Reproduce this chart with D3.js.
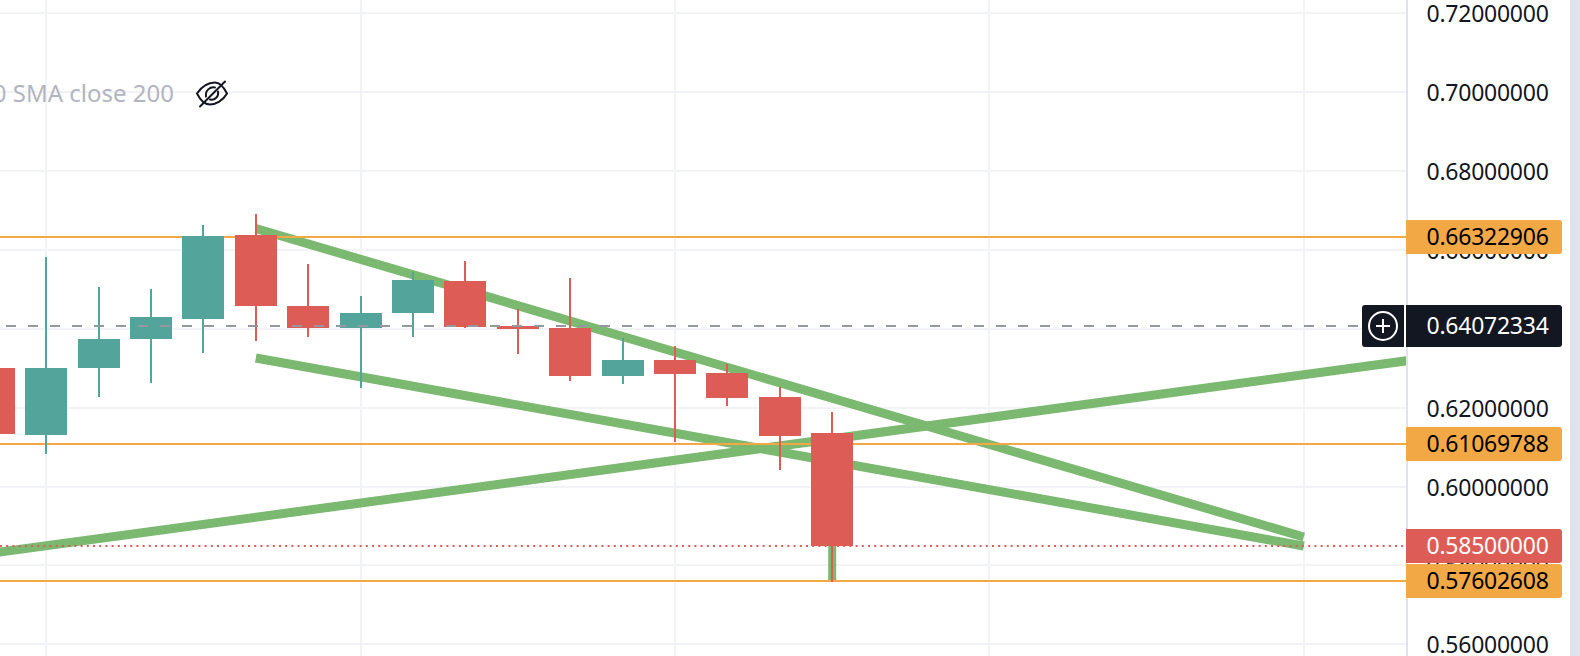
<!DOCTYPE html>
<html>
<head>
<meta charset="utf-8">
<script src="https://cdn.jsdelivr.net/npm/d3@7"></script>
<style>
  html, body { margin: 0; padding: 0; background: #fff; overflow: hidden; }
  text { font-family: "Noto Sans", sans-serif; }
  .price { font-size: 23px; letter-spacing: -0.25px; }
</style>
</head>
<body>
<div id="chart"></div>
<script>
// candle values, left to right (first one is cut by the left edge)
const candleIdx = [0, 1, 2, 3, 4, 5, 6, 7, 8, 9, 10, 11, 12, 13, 14, 15, 16];
const opens = [0.63016, 0.61318, 0.63016, 0.63752, 0.64259, 0.66388, 0.64588, 0.6403, 0.64411, 0.65222, 0.64081, 0.6403, 0.62814, 0.63219, 0.6289, 0.62281, 0.61369];
const closes = [0.61343, 0.63016, 0.63752, 0.64309, 0.66363, 0.64588, 0.6403, 0.64411, 0.65247, 0.64056, 0.64005, 0.62814, 0.63219, 0.62864, 0.62256, 0.61293, 0.585];
const highs = [0.63016, 0.6583, 0.6507, 0.65019, 0.66641, 0.6692, 0.65653, 0.64842, 0.6545, 0.65729, 0.64512, 0.65298, 0.63777, 0.63574, 0.63118, 0.62535, 0.61901];
const lows = [0.61343, 0.60837, 0.62281, 0.62636, 0.63397, 0.63701, 0.63802, 0.6251, 0.63802, 0.6403, 0.63371, 0.62687, 0.62611, 0.61141, 0.62053, 0.60431, 0.57602];

// axis
const priceTicks = [0.72, 0.70, 0.68, 0.66, 0.64, 0.62, 0.60, 0.58, 0.56];
const timeGrid = [1, 7, 13, 19, 25];

// drawings
const levels = [0.66322906, 0.61069788, 0.57602608];
const lastPrice = 0.64072334;
const closePrice = 0.585;
const trendUpper = [[5, 0.66553], [25, 0.58733]];
const trendLower = [[5, 0.6327], [25, 0.58504]];
const trendRising = [[0, 0.5833], [27, 0.63207]];
const trendStub = [[16, 0.59], [16, 0.57602608]];

const width = 1580, height = 656;
const plotRight = 1406;
const fmt = d3.format(".8f");

const colors = {
  up: "#53a49a", down: "#de5c56", trend: "#7bb870", level: "#f2a945",
  grid: "#f2f3f6", axis: "#e0e3eb", text: "#131722", last: "#9598a1"
};

const x = d3.scaleLinear().domain([0, 25]).range([-6.2, 1303.8]);
const y = d3.scaleLinear().domain([0.56, 0.72]).range([644.8, 13.6]);
// horizontal rules land on whole pixels
const yRule = (v) => Math.floor(y(v));

const svg = d3.select("#chart").append("svg")
  .attr("width", width)
  .attr("height", height)
  .style("display", "block");

svg.append("defs").append("clipPath").attr("id", "plot")
  .append("rect").attr("width", plotRight).attr("height", height);

// grid
svg.append("g").selectAll("line").data(priceTicks).join("line")
  .attr("x1", 0).attr("x2", plotRight)
  .attr("y1", (d) => yRule(d)).attr("y2", (d) => yRule(d))
  .attr("stroke", colors.grid).attr("stroke-width", 2);
svg.append("g").selectAll("line").data(timeGrid).join("line")
  .attr("x1", (d) => Math.round(x(d))).attr("x2", (d) => Math.round(x(d)))
  .attr("y1", 0).attr("y2", height)
  .attr("stroke", colors.grid).attr("stroke-width", 2);

const plot = svg.append("g").attr("clip-path", "url(#plot)");

// trend lines sit under everything else
const trendLine = d3.line().x((d) => x(d[0])).y((d) => y(d[1]));
plot.append("g").selectAll("path")
  .data([trendUpper, trendLower, trendRising]).join("path")
  .attr("d", trendLine)
  .attr("fill", "none")
  .attr("stroke", colors.trend)
  .attr("stroke-width", 9);
plot.append("path")
  .attr("d", trendLine(trendStub))
  .attr("fill", "none")
  .attr("stroke", colors.trend)
  .attr("stroke-width", 8);

plot.append("g").selectAll("line").data(levels).join("line")
  .attr("x1", 0).attr("x2", plotRight)
  .attr("y1", (d) => yRule(d)).attr("y2", (d) => yRule(d))
  .attr("stroke", colors.level).attr("stroke-width", 2);

plot.append("line")
  .attr("x1", 0).attr("x2", plotRight - 3)
  .attr("y1", yRule(closePrice)).attr("y2", yRule(closePrice))
  .attr("stroke", colors.down).attr("stroke-width", 2)
  .attr("stroke-dasharray", "2 4.2");

// candles
const candles = plot.append("g").selectAll("g").data(candleIdx).join("g")
  .attr("fill", (i) => (closes[i] >= opens[i] ? colors.up : colors.down));
candles.append("rect")
  .attr("x", (i) => Math.round(x(i)) - 1)
  .attr("width", 2)
  .attr("y", (i) => Math.round(y(highs[i])))
  .attr("height", (i) => Math.round(y(lows[i])) - Math.round(y(highs[i])));
candles.append("rect")
  .attr("x", (i) => Math.round(x(i)) - 21)
  .attr("width", 42)
  .attr("y", (i) => Math.round(y(Math.max(opens[i], closes[i]))))
  .attr("height", (i) => Math.round(y(Math.min(opens[i], closes[i]))) - Math.round(y(Math.max(opens[i], closes[i]))));

// last price line goes over the candles
plot.append("line")
  .attr("x1", 6).attr("x2", 1358)
  .attr("y1", yRule(lastPrice)).attr("y2", yRule(lastPrice))
  .attr("stroke", colors.last).attr("stroke-width", 2)
  .attr("stroke-dasharray", "10 12");

// price axis
svg.append("rect")
  .attr("x", plotRight).attr("width", 2).attr("height", height)
  .attr("fill", colors.axis);
svg.append("rect")
  .attr("x", 1570).attr("width", 10).attr("height", height)
  .attr("fill", "#dfe3ec");

const axis = svg.append("g")
  .attr("transform", "translate(1426.5,0)")
  .call(d3.axisRight(y).tickValues(priceTicks).tickSize(0).tickPadding(0).tickFormat(fmt));
axis.select(".domain").remove();
axis.selectAll("text")
  .attr("class", "price")
  .attr("fill", colors.text)
  .attr("dy", "0.35em")
  .style("font-family", null)
  .style("font-size", null);
axis.attr("font-size", null).attr("font-family", null);

// price labels
function priceLabel(value, fill, textFill, left, h) {
  const cy = yRule(value);
  const r = 3;
  svg.append("path")
    .attr("d", `M${left},${cy - h / 2}H${1562 - r}a${r},${r} 0 0 1 ${r},${r}V${cy + h / 2 - r}a${r},${r} 0 0 1 ${-r},${r}H${left}Z`)
    .attr("fill", fill);
  svg.append("text")
    .attr("class", "price")
    .attr("x", 1426.5).attr("y", cy).attr("dy", "0.35em")
    .attr("fill", textFill)
    .text(fmt(value));
}

priceLabel(levels[0], colors.level, "#000", plotRight, 34);
priceLabel(levels[1], colors.level, "#000", plotRight, 34);
priceLabel(closePrice, colors.down, "#fff", plotRight, 34);
priceLabel(levels[2], colors.level, "#000", plotRight, 34);

// crosshair style label with the plus button
const lastY = yRule(lastPrice);
svg.append("rect")
  .attr("x", 1362).attr("y", lastY - 21).attr("width", 200).attr("height", 42)
  .attr("rx", 3).attr("fill", colors.text);
svg.append("rect")
  .attr("x", 1404).attr("y", lastY - 21).attr("width", 2).attr("height", 42)
  .attr("fill", "#fff");
svg.append("text")
  .attr("class", "price")
  .attr("x", 1426.5).attr("y", lastY).attr("dy", "0.35em")
  .attr("fill", "#fff")
  .text(fmt(lastPrice));
const plus = svg.append("g")
  .attr("transform", `translate(1383,${lastY})`)
  .attr("fill", "none").attr("stroke", "#fff").attr("stroke-width", 2);
plus.append("circle").attr("r", 14);
plus.append("path").attr("d", "M-7,0H7M0,-7V7");

// legend text, cut by the left edge
svg.append("text")
  .attr("x", 174).attr("y", y(0.70)).attr("dy", "0.4em")
  .attr("text-anchor", "end")
  .attr("fill", "#b2b5be")
  .style("font-size", "24px")
  .text("MA 200 SMA close 200");

const eye = svg.append("g")
  .attr("transform", `translate(212,${y(0.70) + 1})`)
  .attr("fill", "none").attr("stroke", colors.text)
  .attr("stroke-width", 2).attr("stroke-linecap", "round");
eye.append("path").attr("d", "M-15,0C-9,-9 -3,-11 3,-11C8,-11 12,-6 15,0C11,7 4,11 -2,11C-8,11 -12,6 -15,0Z");
eye.append("path").attr("d", "M-6,3C-7,-3 -2,-7 3,-6M6,-2C7,3 3,7 -2,6");
eye.append("path").attr("d", "M-12,13L13,-12");
</script>
</body>
</html>
